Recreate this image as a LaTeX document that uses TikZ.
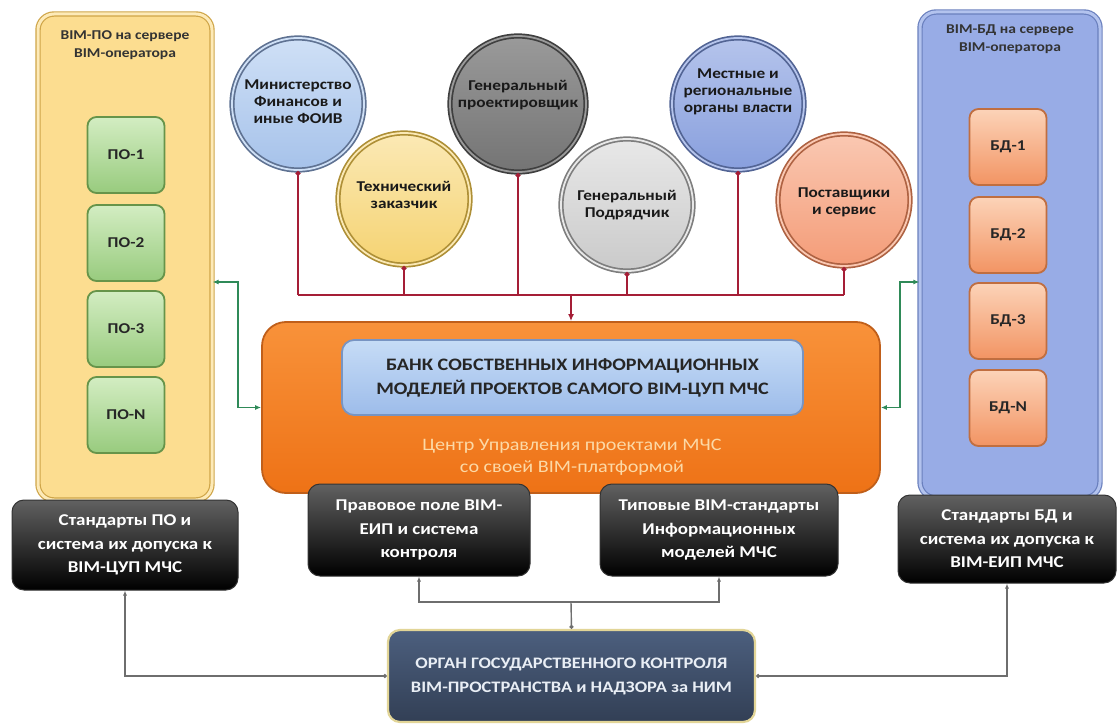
\documentclass[tikz,border=0pt]{standalone}
\usepackage{fontspec}
\setmainfont{Carlito}[FakeStretch=1.15]
\usetikzlibrary{arrows.meta,calc}

% palette
\definecolor{panYfill}{HTML}{FCDD90}
\definecolor{panYdraw}{HTML}{CFA548}
\definecolor{panYin}{HTML}{FDEAB8}
\definecolor{panBfill}{HTML}{98ACE6}
\definecolor{panBdraw}{HTML}{6A80BE}
\definecolor{panBin}{HTML}{B3C3EE}
\definecolor{gTop}{HTML}{D3EDC2}
\definecolor{gBot}{HTML}{98CB7E}
\definecolor{gDraw}{HTML}{66944A}
\definecolor{dTop}{HTML}{FCD3B8}
\definecolor{dBot}{HTML}{F29463}
\definecolor{dDraw}{HTML}{C06E40}
\definecolor{oTop}{HTML}{F8923A}
\definecolor{oBot}{HTML}{EE7216}
\definecolor{oDraw}{HTML}{C05F1A}
\definecolor{bTop}{HTML}{C6DCF6}
\definecolor{bBot}{HTML}{9DBCEA}
\definecolor{bDraw}{HTML}{7894C2}
\definecolor{otxt}{HTML}{FCD9A6}
\definecolor{govTop}{HTML}{4C5F7E}
\definecolor{govBot}{HTML}{323F55}
\definecolor{govDraw}{HTML}{E2D597}
\definecolor{govTxt}{HTML}{E9EEF5}
\definecolor{redln}{HTML}{A51E36}
\definecolor{grnln}{HTML}{2F8A58}
\definecolor{gryln}{HTML}{6E6E6E}
\definecolor{c1f}{HTML}{A6C2EA}\definecolor{c1t}{HTML}{CFE0F6}\definecolor{c1r}{HTML}{5F7292}
\definecolor{c2f}{HTML}{F5D372}\definecolor{c2t}{HTML}{FBE9B5}\definecolor{c2r}{HTML}{AE8F36}
\definecolor{c3f}{HTML}{747474}\definecolor{c3t}{HTML}{9A9A9A}\definecolor{c3r}{HTML}{3F3F3F}
\definecolor{c4f}{HTML}{CACACA}\definecolor{c4t}{HTML}{E8E8E8}\definecolor{c4r}{HTML}{7E7E7E}
\definecolor{c5f}{HTML}{889FDD}\definecolor{c5t}{HTML}{B5C4EC}\definecolor{c5r}{HTML}{526494}
\definecolor{c6f}{HTML}{F49C78}\definecolor{c6t}{HTML}{FAC8B2}\definecolor{c6r}{HTML}{AE6242}

\tikzset{
  panel/.style n args={3}{rounded corners=16pt, inner sep=0pt, fill=#1, draw=#2,
    line width=1.2pt, double=#3, double distance=3pt},
  ttl/.style={align=center, font=\bfseries\fontsize{13.5}{18}\selectfont, text=black!80},
  smallbox/.style n args={3}{rounded corners=9pt, inner sep=0pt, minimum width=77pt,
    minimum height=76pt, top color=#1, bottom color=#2, draw=#3, line width=1.8pt,
    font=\bfseries\fontsize{15}{18}\selectfont, text=black!85},
  circ/.style n args={3}{circle, inner sep=0pt, minimum size=132pt,
    top color=#1, bottom color=#2, draw=#3, line width=1.7pt,
    double=#1, double distance=1.8pt},
  ctext/.style={align=center, font=\bfseries\fontsize{15}{17}\selectfont, text=black!90},
  blk/.style={rounded corners=12pt, inner sep=0pt, top color=black!62,
    middle color=black, bottom color=black, draw=black!80, line width=1pt,
    align=center, text=white, font=\bfseries\fontsize{16.5}{23.5}\selectfont},
  rline/.style={draw=redln, line width=1.4pt},
  gline/.style={draw=grnln, line width=1.4pt},
  kline/.style={draw=gryln, line width=1.4pt},
}

\begin{document}
\begin{tikzpicture}[x=1pt,y=-1pt]
\useasboundingbox (0,0) rectangle (1118,727);
\fill[white] (0,0) rectangle (1118,727);

% side panels: software (left) and databases (right)
\node[panel={panYfill}{panYdraw}{panYin}, minimum width=174pt, minimum height=486pt] (panL) at (125,257) {};
\node[ttl] (tL) at (125,45) {BIM-ПО на сервере\\BIM-оператора};
\node[smallbox={gTop}{gBot}{gDraw}] (p1) at (126,155) {ПО-1};
\node[smallbox={gTop}{gBot}{gDraw}] (p2) at (126,243) {ПО-2};
\node[smallbox={gTop}{gBot}{gDraw}] (p3) at (126,329) {ПО-3};
\node[smallbox={gTop}{gBot}{gDraw}] (p4) at (126,415) {ПО-N};

\node[panel={panBfill}{panBdraw}{panBin}, minimum width=180pt, minimum height=486pt] (panR) at (1010,255) {};
\node[ttl] (tR) at (1010,39) {BIM-БД на сервере\\BIM-оператора};
\node[smallbox={dTop}{dBot}{dDraw}] (d1) at (1008,147) {БД-1};
\node[smallbox={dTop}{dBot}{dDraw}] (d2) at (1008,235) {БД-2};
\node[smallbox={dTop}{dBot}{dDraw}] (d3) at (1008,321) {БД-3};
\node[smallbox={dTop}{dBot}{dDraw}] (d4) at (1008,408) {БД-N};

% participants
\node[circ={c1t}{c1f}{c1r}] (c1) at (298,104) {};
\node[circ={c3t}{c3f}{c3r}, minimum size=136pt] (c3) at (518,104) {};
\node[circ={c5t}{c5f}{c5r}] (c5) at (738,104) {};
\node[circ={c2t}{c2f}{c2r}] (c2) at (404,199) {};
\node[circ={c4t}{c4f}{c4r}] (c4) at (627,205) {};
\node[circ={c6t}{c6f}{c6r}] (c6) at (844,200) {};
\node[ctext] (c1l) at (298,102) {Министерство\\Финансов и\\иные ФОИВ};
\node[ctext] (c3l) at (518,95) {Генеральный\\проектировщик};
\node[ctext] (c5l) at (738,92) {Местные и\\региональные\\органы власти};
\node[ctext] (c2l) at (404,195) {Технический\\заказчик};
\node[ctext] (c4l) at (627,205) {Генеральный\\Подрядчик};
\node[ctext] (c6l) at (844,202) {Поставщики\\и сервис};

% project management centre
\node[rounded corners=24pt, minimum width=618pt, minimum height=171pt, inner sep=0pt,
  top color=oTop, bottom color=oBot, draw=oDraw, line width=1.8pt] (orange) at (571,407.5) {};
\node[rounded corners=12pt, minimum width=461pt, minimum height=75pt, inner sep=0pt,
  top color=bTop, bottom color=bBot, draw=bDraw, line width=1.8pt, align=center,
  font=\bfseries\fontsize{17.5}{24}\selectfont, text=black!85] (bank) at (572.5,377.5)
  {БАНК СОБСТВЕННЫХ ИНФОРМАЦИОННЫХ\\МОДЕЛЕЙ ПРОЕКТОВ САМОГО BIM-ЦУП МЧС};
\node[align=center, text=otxt, font=\fontsize{17.5}{22}\selectfont] (ctr) at (572,457)
  {Центр Управления проектами МЧС\\со своей BIM-платформой};

% standards and rules
\node[blk, minimum width=226pt, minimum height=90pt] (bl1) at (125,545)
  {Стандарты ПО и\\система их допуска к\\BIM-ЦУП МЧС};
\node[blk, minimum width=222pt, minimum height=92pt] (bl2) at (419,530)
  {Правовое поле BIM-\\ЕИП и система\\контроля};
\node[blk, minimum width=238pt, minimum height=92pt] (bl3) at (719,530)
  {Типовые BIM-стандарты\\Информационных\\моделей МЧС};
\node[blk, minimum width=218pt, minimum height=88pt] (bl4) at (1007,539)
  {Стандарты БД и\\система их допуска к\\BIM-ЕИП МЧС};

% supervising authority
\node[rounded corners=12pt, minimum width=367pt, minimum height=92pt, inner sep=0pt,
  top color=govTop, bottom color=govBot, draw=govDraw, line width=2.2pt, align=center,
  text=govTxt, font=\bfseries\fontsize{16}{24}\selectfont] (gov) at (571.5,676)
  {ОРГАН ГОСУДАРСТВЕННОГО КОНТРОЛЯ\\BIM-ПРОСТРАНСТВА и НАДЗОРА за НИМ};

% participants feed the centre
\coordinate (bus) at (571,295);
\foreach \c in {c1,c2,c3,c4,c5,c6}
  \draw[rline, {Circle[length=5pt]}-] (\c.south) -- (\c.south |- bus);
\draw[rline] (c1.south |- bus) -- (c6.south |- bus);
\draw[rline, -{Latex[length=7pt,width=6pt]}] (bus) -- (orange.north);

% exchange with the servers
\coordinate (gL) at (238,282);
\coordinate (gR) at (900,282);
\draw[gline, {Latex[length=6pt,width=5pt]}-{Latex[length=6pt,width=5pt]}]
  (panL.east |- gL) -- (gL) -- (gL |- orange.west) -- (orange.west);
\draw[gline, {Latex[length=6pt,width=5pt]}-{Latex[length=6pt,width=5pt]}]
  (panR.west |- gR) -- (gR) -- (gR |- orange.east) -- (orange.east);

% control links
\coordinate (gb) at (571,602);
\draw[kline, {Circle[length=4pt]}-] (gov.north) -- (gb);
\draw[kline, -{Latex[length=5pt,width=4pt]}] (gb) -| (bl2.south);
\draw[kline, -{Latex[length=5pt,width=4pt]}] (gb) -| (bl3.south);
\draw[kline, {Circle[length=4pt]}-{Latex[length=5pt,width=4pt]}] (gov.west) -| (bl1.south);
\draw[kline, {Circle[length=4pt]}-{Latex[length=5pt,width=4pt]}] (gov.east) -| (bl4.south);
\end{tikzpicture}
\end{document}
